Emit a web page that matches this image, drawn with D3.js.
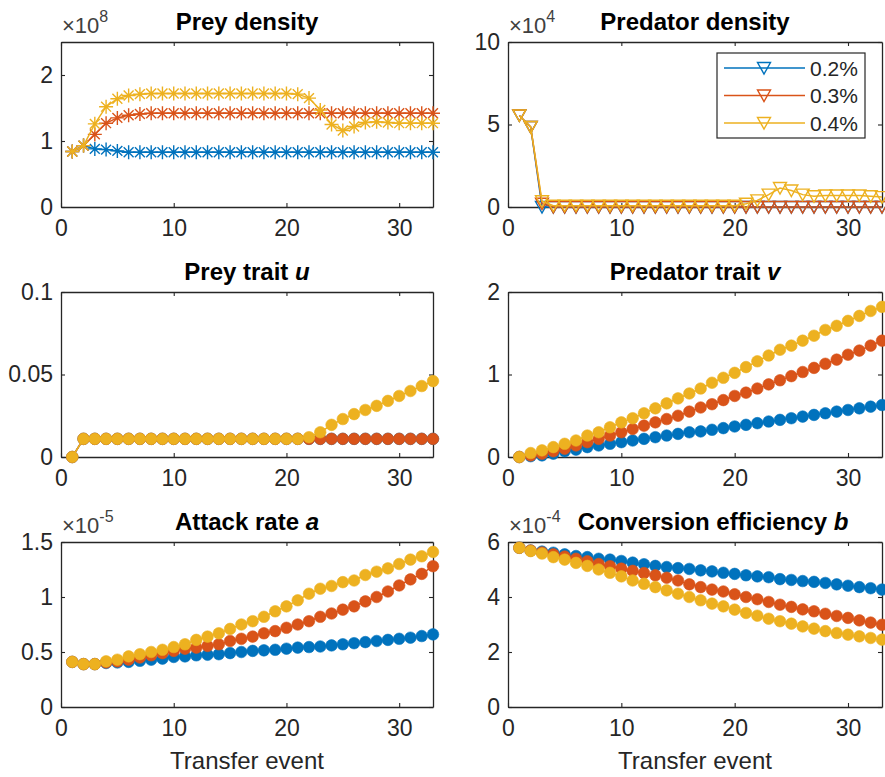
<!DOCTYPE html>
<html>
<head>
<meta charset="utf-8">
<script src="https://cdn.jsdelivr.net/npm/d3@7"></script>
<style>
  body { margin: 0; background: #fff; }
  text { font-family: "Liberation Sans", Arial, sans-serif; fill: #262626; }
</style>
</head>
<body>
<script>
// six panels, MATLAB style subplot(3,2,k)

const w = 885;
const h = 777;

const events = [1,2,3,4,5,6,7,8,9,10,11,12,13,14,15,16,17,18,19,20,21,22,23,24,25,26,27,28,29,30,31,32,33];
const seriesNames = ["0.2%", "0.3%", "0.4%"];
const colors = ["#0072BD", "#D95319", "#EDB120"];
const xTicks = [0, 10, 20, 30];

// prey density (x 1e8)
const preyDensity02 = [0.84,0.93,0.88,0.87,0.85,0.83,0.83,0.83,0.83,0.83,0.83,0.83,0.83,0.83,0.83,0.83,0.83,0.83,0.83,0.83,0.83,0.83,0.83,0.83,0.83,0.83,0.83,0.83,0.83,0.83,0.83,0.83,0.83];
const preyDensity03 = [0.84,0.93,1.10,1.27,1.35,1.39,1.41,1.42,1.42,1.42,1.42,1.42,1.42,1.42,1.42,1.42,1.42,1.42,1.42,1.42,1.42,1.42,1.42,1.42,1.42,1.42,1.42,1.42,1.42,1.42,1.42,1.42,1.42];
const preyDensity04 = [0.84,0.93,1.26,1.52,1.64,1.69,1.71,1.72,1.72,1.72,1.72,1.72,1.72,1.72,1.72,1.72,1.72,1.72,1.72,1.72,1.71,1.65,1.47,1.25,1.16,1.22,1.28,1.29,1.28,1.27,1.27,1.27,1.27];

// predator density (x 1e4)
const predDensity02 = [5.55,4.85,0,0,0,0,0,0,0,0,0,0,0,0,0,0,0,0,0,0,0,0,0,0,0,0,0,0,0,0,0,0,0];
const predDensity03 = [5.55,4.85,0.2,0,0,0,0,0,0,0,0,0,0,0,0,0,0,0,0,0,0,0,0,0,0,0,0,0,0,0,0,0,0];
const predDensity04 = [5.55,4.85,0.35,0.08,0.08,0.08,0.08,0.08,0.08,0.08,0.08,0.08,0.08,0.08,0.08,0.08,0.08,0.08,0.08,0.08,0.2,0.4,0.75,1.15,1.0,0.75,0.65,0.7,0.7,0.7,0.7,0.65,0.6];

// prey trait u
const preyTrait02 = [0,0.011,0.011,0.011,0.011,0.011,0.011,0.011,0.011,0.011,0.011,0.011,0.011,0.011,0.011,0.011,0.011,0.011,0.011,0.011,0.011,0.011,0.011,0.011,0.011,0.011,0.011,0.011,0.011,0.011,0.011,0.011,0.011];
const preyTrait03 = [0,0.011,0.011,0.011,0.011,0.011,0.011,0.011,0.011,0.011,0.011,0.011,0.011,0.011,0.011,0.011,0.011,0.011,0.011,0.011,0.011,0.011,0.011,0.011,0.011,0.011,0.011,0.011,0.011,0.011,0.011,0.011,0.011];
const preyTrait04 = [0,0.011,0.011,0.011,0.011,0.011,0.011,0.011,0.011,0.011,0.011,0.011,0.011,0.011,0.011,0.011,0.011,0.011,0.011,0.011,0.011,0.012,0.015,0.0195,0.023,0.026,0.0285,0.031,0.034,0.037,0.040,0.043,0.046];

// predator trait v
const predTrait02 = [0,0.01,0.02,0.04,0.07,0.09,0.12,0.14,0.16,0.18,0.20,0.22,0.24,0.26,0.28,0.30,0.31,0.33,0.35,0.37,0.39,0.41,0.43,0.45,0.47,0.49,0.51,0.53,0.55,0.57,0.59,0.61,0.63];
const predTrait03 = [0,0.02,0.04,0.07,0.10,0.14,0.18,0.22,0.26,0.30,0.34,0.38,0.42,0.46,0.50,0.55,0.60,0.64,0.69,0.74,0.78,0.83,0.88,0.93,0.98,1.03,1.08,1.13,1.18,1.24,1.29,1.35,1.41];
const predTrait04 = [0,0.048,0.08,0.12,0.16,0.20,0.26,0.30,0.36,0.42,0.47,0.53,0.59,0.65,0.71,0.77,0.83,0.90,0.96,1.02,1.09,1.16,1.23,1.30,1.35,1.41,1.47,1.54,1.59,1.65,1.71,1.77,1.82];

// attack rate a (x 1e-5)
const attack02 = [0.41,0.39,0.39,0.40,0.405,0.41,0.42,0.43,0.44,0.455,0.46,0.47,0.475,0.48,0.49,0.50,0.51,0.515,0.52,0.53,0.54,0.545,0.55,0.56,0.57,0.58,0.59,0.60,0.61,0.62,0.63,0.645,0.66];
const attack03 = [0.41,0.39,0.39,0.405,0.415,0.43,0.45,0.47,0.49,0.51,0.53,0.54,0.555,0.57,0.60,0.62,0.64,0.67,0.69,0.72,0.75,0.78,0.82,0.85,0.885,0.915,0.96,1.0,1.05,1.105,1.16,1.21,1.28];
const attack04 = [0.41,0.39,0.39,0.415,0.43,0.46,0.48,0.50,0.52,0.545,0.57,0.61,0.64,0.67,0.71,0.75,0.78,0.82,0.87,0.915,0.97,1.03,1.075,1.10,1.135,1.15,1.20,1.23,1.26,1.30,1.34,1.37,1.41];

// conversion efficiency b (x 1e-4)
const conv02 = [5.79,5.69,5.65,5.61,5.55,5.49,5.45,5.39,5.36,5.31,5.25,5.19,5.13,5.09,5.05,5.02,4.97,4.93,4.88,4.84,4.79,4.75,4.72,4.65,4.62,4.58,4.55,4.51,4.46,4.41,4.36,4.32,4.27];
const conv03 = [5.79,5.69,5.62,5.55,5.47,5.39,5.30,5.20,5.12,5.03,4.95,4.87,4.79,4.70,4.60,4.46,4.36,4.27,4.20,4.10,4.00,3.92,3.82,3.72,3.64,3.55,3.48,3.39,3.31,3.24,3.15,3.07,2.99];
const conv04 = [5.79,5.67,5.58,5.45,5.36,5.24,5.13,5.00,4.88,4.75,4.60,4.48,4.36,4.24,4.12,4.00,3.88,3.76,3.66,3.54,3.42,3.32,3.21,3.12,3.03,2.93,2.85,2.76,2.69,2.63,2.57,2.51,2.45];

const cols = [{x0: 61, x1: 433}, {x0: 508, x1: 882}];
const rows = [{y0: 42, y1: 207}, {y0: 292, y1: 457}, {y0: 542, y1: 707}];

const panels = [
  {col: 0, row: 0, title: "Prey density", sym: "", exp: "8", marker: "star",
   yDomain: [0, 2.5], yTicks: [0, 1, 2], series: [preyDensity02, preyDensity03, preyDensity04]},
  {col: 1, row: 0, title: "Predator density", sym: "", exp: "4", marker: "tri", legend: true,
   yDomain: [0, 10], yTicks: [0, 5, 10], series: [predDensity02, predDensity03, predDensity04]},
  {col: 0, row: 1, title: "Prey trait ", sym: "u", exp: null, marker: "dot",
   yDomain: [0, 0.1], yTicks: [0, 0.05, 0.1], series: [preyTrait02, preyTrait03, preyTrait04]},
  {col: 1, row: 1, title: "Predator trait ", sym: "v", exp: null, marker: "dot",
   yDomain: [0, 2], yTicks: [0, 1, 2], series: [predTrait02, predTrait03, predTrait04]},
  {col: 0, row: 2, title: "Attack rate ", sym: "a", exp: "-5", marker: "dot", xlabel: true,
   yDomain: [0, 1.5], yTicks: [0, 0.5, 1, 1.5], series: [attack02, attack03, attack04]},
  {col: 1, row: 2, title: "Conversion efficiency ", sym: "b", exp: "-4", marker: "dot", xlabel: true, titleShift: 18,
   yDomain: [0, 6], yTicks: [0, 2, 4, 6], series: [conv02, conv03, conv04]}
];

const svg = d3.select("body")
  .append("svg")
    .attr("width", w)
    .attr("height", h);

svg.append("rect")
    .attr("width", w)
    .attr("height", h)
    .attr("fill", "#fff");

const starPath = (() => {
  const r = 7, d = r * 0.7071;
  return `M${-r},0L${r},0M0,${-r}L0,${r}M${-d},${-d}L${d},${d}M${-d},${d}L${d},${-d}`;
})();
const triPath = "M-6.5,-5.5L6.5,-5.5L0,6Z";

function drawMarker(sel, type, color) {
  if (type === "dot") {
    sel.append("circle").attr("r", 5.8).attr("fill", color).attr("stroke", color).attr("stroke-width", 0.6);
  } else if (type === "star") {
    sel.append("path").attr("d", starPath).attr("fill", "none").attr("stroke", color).attr("stroke-width", 1.4);
  } else {
    sel.append("path").attr("d", triPath).attr("fill", "none").attr("stroke", color).attr("stroke-width", 1.4);
  }
}

panels.forEach(p => {
  const c = cols[p.col], r = rows[p.row];
  const x = d3.scaleLinear().domain([0, 33]).range([c.x0, c.x1]);
  const y = d3.scaleLinear().domain(p.yDomain).range([r.y1, r.y0]);
  const g = svg.append("g");

  // axes with inward ticks on all four sides
  const axisColor = "#262626";
  const styleAxis = a => {
    a.select(".domain").attr("stroke", axisColor).attr("stroke-width", 1.3);
    a.selectAll(".tick line").attr("stroke", axisColor).attr("stroke-width", 1.1);
    a.selectAll(".tick text").attr("fill", axisColor).style("font-size", "23px")
      .style("font-family", "'Liberation Sans', Arial, sans-serif");
  };
  g.append("g").attr("transform", `translate(0,${r.y1})`)
    .call(d3.axisBottom(x).tickValues(xTicks).tickSizeInner(-4).tickSizeOuter(0).tickPadding(13))
    .call(styleAxis);
  g.append("g").attr("transform", `translate(0,${r.y0})`)
    .call(d3.axisTop(x).tickValues(xTicks).tickSizeInner(-4).tickSizeOuter(0).tickFormat(""))
    .call(styleAxis);
  g.append("g").attr("transform", `translate(${c.x0},0)`)
    .call(d3.axisLeft(y).tickValues(p.yTicks).tickSizeInner(-4).tickSizeOuter(0).tickPadding(8).tickFormat(d3.format("")))
    .call(styleAxis);
  g.append("g").attr("transform", `translate(${c.x1},0)`)
    .call(d3.axisRight(y).tickValues(p.yTicks).tickSizeInner(-4).tickSizeOuter(0).tickFormat(""))
    .call(styleAxis);

  // series
  const line = d3.line().x((d, i) => x(events[i])).y(d => y(d));
  p.series.forEach((vals, k) => {
    const s = g.append("g");
    s.append("path").datum(vals)
      .attr("d", line)
      .attr("fill", "none")
      .attr("stroke", colors[k])
      .attr("stroke-width", 1.5);
    s.selectAll("g.m").data(vals).enter().append("g")
      .attr("class", "m")
      .attr("transform", (d, i) => `translate(${x(events[i])},${y(d)})`)
      .each(function() { drawMarker(d3.select(this), p.marker, colors[k]); });
  });

  // title
  const cx = (c.x0 + c.x1) / 2 + (p.titleShift || 0);
  const t = g.append("text")
    .attr("x", cx)
    .attr("y", r.y0 - 12)
    .attr("text-anchor", "middle")
    .style("font-size", "24px")
    .style("font-weight", "bold")
    .style("fill", "#000");
  t.append("tspan").text(p.title);
  if (p.sym) t.append("tspan").style("font-style", "italic").text(p.sym);

  // exponent label
  if (p.exp) {
    const e = g.append("text")
      .attr("x", c.x0 + 1)
      .attr("y", r.y0 - 9)
      .style("font-size", "22px")
      .style("fill", "#404040");
    e.append("tspan").text("\u00d710");
    e.append("tspan").attr("dy", -11).style("font-size", "16px").text(p.exp);
  }

  if (p.xlabel) {
    g.append("text")
      .attr("x", (c.x0 + c.x1) / 2)
      .attr("y", 769)
      .attr("text-anchor", "middle")
      .style("font-size", "24px")
      .text("Transfer event");
  }

  if (p.legend) {
    const lg = g.append("g");
    lg.append("rect")
      .attr("x", 717).attr("y", 53)
      .attr("width", 148).attr("height", 85)
      .attr("fill", "#fff")
      .attr("stroke", axisColor)
      .attr("stroke-width", 1.2);
    seriesNames.forEach((name, k) => {
      const ly = 68 + k * 27.5;
      lg.append("line")
        .attr("x1", 724).attr("x2", 805)
        .attr("y1", ly).attr("y2", ly)
        .attr("stroke", colors[k]).attr("stroke-width", 1.5);
      const m = lg.append("g").attr("transform", `translate(764,${ly})`);
      drawMarker(m, "tri", colors[k]);
      lg.append("text")
        .attr("x", 810).attr("y", ly + 7.5)
        .style("font-size", "21px")
        .text(name);
    });
  }
});
</script>
</body>
</html>
